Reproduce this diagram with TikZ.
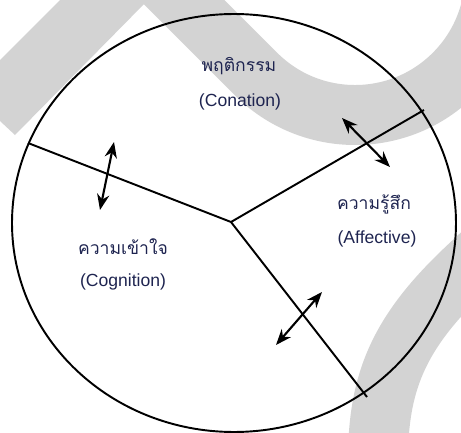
\documentclass[tikz,border=0pt]{standalone}
\usepackage{fontspec}
\setmainfont{Liberation Sans}
\newfontfamily\thaifont[Script=Thai]{Loma}
\usetikzlibrary{arrows.meta}
\definecolor{markgray}{RGB}{211,211,211}
\definecolor{labelink}{RGB}{30,36,80}
\tikzset{
	band/.style={draw=markgray, line width=1.2cm},
	rim/.style={line width=1.1pt},
	twoway/.style={line width=1.2pt, {Stealth[length=9pt,width=7pt]}-{Stealth[length=9pt,width=7pt]}},
	thlabel/.style={font=\thaifont\fontsize{10}{12}\selectfont, text=labelink, inner sep=1pt},
	enlabel/.style={font=\fontsize{10}{12}\selectfont, text=labelink, inner sep=1pt},
}

\begin{document}
\begin{tikzpicture}[x=0.02cm, y=-0.02cm]
	\useasboundingbox (0, 0) rectangle (461, 433);
	% Background marks:
	\begin{scope}
		\clip (0, 0) rectangle (461, 433);
		\fill[markgray] (60, 0) -- (148, 0) -- (15, 135) -- (0, 121) -- (0, 60) -- cycle;
		\draw[band] (150, -32) -- (256, 74) arc[start angle=135, end angle=-40, radius=140];
		\draw[band] (378, 460) .. controls (378, 380) and (400, 330) .. (470, 265) -- (500, 237);
	\end{scope}
	% Circle and dividing lines:
	\draw[rim] (234, 223) ellipse[x radius=222, y radius=209];
	\coordinate (hub) at (231, 222);
	\coordinate (rimL) at (28, 143);
	\coordinate (rimR) at (424, 110);
	\coordinate (rimB) at (367, 397);
	\draw[rim] (hub) -- (rimL);
	\draw[rim] (hub) -- (rimR);
	\draw[rim] (hub) -- (rimB);
	% Two-way arrows:
	\coordinate (aLa) at (114, 142);
	\coordinate (aLb) at (100, 210);
	\coordinate (aRa) at (342, 118);
	\coordinate (aRb) at (390, 167);
	\coordinate (aBa) at (322, 292);
	\coordinate (aBb) at (276, 345);
	\draw[twoway] (aLa) -- (aLb);
	\draw[twoway] (aRa) -- (aRb);
	\draw[twoway] (aBa) -- (aBb);
	% Labels:
	\node[thlabel] (conTh) at (239, 66) {พฤติกรรม};
	\node[enlabel] (conEn) at (240, 102) {(Conation)};
	\node[thlabel] (affTh) at (374, 204) {ความรู้สึก};
	\node[enlabel] (affEn) at (377, 239) {(Affective)};
	\node[thlabel] (cogTh) at (123, 247) {ความเข้าใจ};
	\node[enlabel] (cogEn) at (123, 282) {(Cognition)};
\end{tikzpicture}
\end{document}
